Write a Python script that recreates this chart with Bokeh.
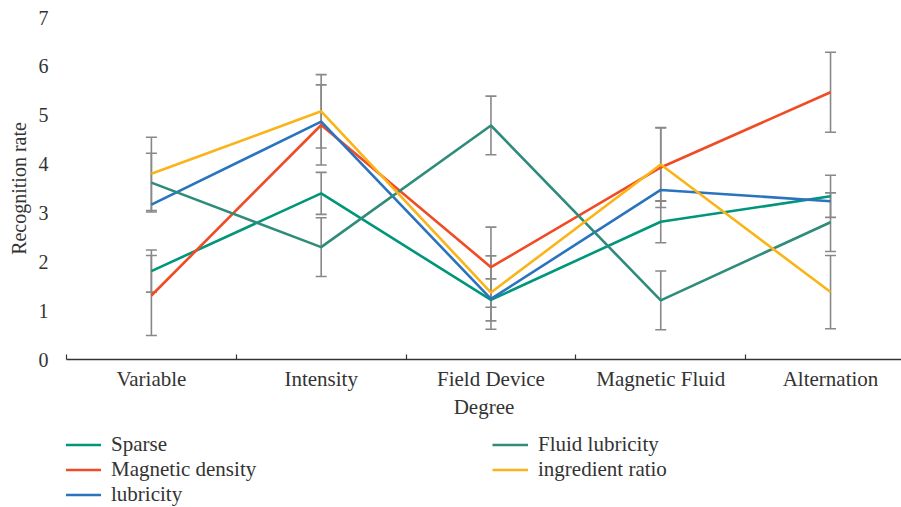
from bokeh.plotting import figure
from bokeh.layouts import column
from bokeh.models import (ColumnDataSource, Range1d, FixedTicker, Whisker, TeeHead,
                          Legend, LegendItem)
from bokeh.embed import file_html
from bokeh.resources import INLINE

# Categories along the x axis
categories = ["Variable", "Intensity", "Field Device", "Magnetic Fluid", "Alternation"]

# Series values (recognition rate) per category
sparse = [1.81, 3.40, 1.22, 2.82, 3.34]
magnetic_density = [1.31, 4.80, 1.89, 3.93, 5.47]
lubricity = [3.17, 4.87, 1.24, 3.47, 3.24]
fluid_lubricity = [3.62, 2.30, 4.79, 1.21, 2.81]
ingredient_ratio = [3.80, 5.08, 1.37, 3.99, 1.38]

# Symmetric error per series (None = no error bars)
sparse_err = 0.43
magnetic_density_err = 0.82
fluid_lubricity_err = 0.60
ingredient_ratio_err = 0.75

y_ticks = [0, 1, 2, 3, 4, 5, 6, 7]

FONT = "Liberation Serif"
TEXT = "#333333"

series = [
    ("Sparse", sparse, sparse_err, "#00967a"),
    ("Magnetic density", magnetic_density, magnetic_density_err, "#f04b24"),
    ("lubricity", lubricity, None, "#2a73bf"),
    ("Fluid lubricity", fluid_lubricity, fluid_lubricity_err, "#2f8c7b"),
    ("ingredient ratio", ingredient_ratio, ingredient_ratio_err, "#fbb417"),
]

xs = list(range(len(categories)))

chart = figure(width=901, height=430, output_backend="svg", toolbar_location=None,
               x_range=Range1d(-0.5, 4.418), y_range=Range1d(0, 7),
               min_border_left=66, min_border_right=0, min_border_top=17,
               min_border_bottom=71)
chart.outline_line_color = None
chart.xgrid.visible = False
chart.ygrid.visible = False

# Error bars first so the series lines sit on top
for name, vals, err, color in series:
    if err is None:
        continue
    src = ColumnDataSource(dict(x=xs,
                                upper=[v + err for v in vals],
                                lower=[v - err for v in vals]))
    w = Whisker(base="x", upper="upper", lower="lower", source=src,
                line_color="#888888", line_width=1.6,
                upper_head=TeeHead(size=11, line_color="#888888", line_width=1.6),
                lower_head=TeeHead(size=11, line_color="#888888", line_width=1.6))
    chart.add_layout(w)

for name, vals, err, color in series:
    chart.line(xs, vals, line_color=color, line_width=2.6)

# X axis: labels at category centres, small inward ticks at the boundaries
xa = chart.xaxis[0]
xa.ticker = FixedTicker(ticks=xs, minor_ticks=[-0.5, 0.5, 1.5, 2.5, 3.5, 4.5])
xa.major_label_overrides = {i: c for i, c in enumerate(categories)}
xa.major_tick_in = 0
xa.major_tick_out = 0
xa.minor_tick_in = 5
xa.minor_tick_out = 0
xa.minor_tick_line_color = TEXT
xa.minor_tick_line_width = 1.2
xa.axis_line_color = TEXT
xa.axis_line_width = 1.4
xa.major_label_standoff = 7
xa.major_label_text_font = FONT
xa.major_label_text_font_size = "21px"
xa.major_label_text_color = TEXT
xa.axis_label = "Degree"
xa.axis_label_text_font = FONT
xa.axis_label_text_font_size = "21px"
xa.axis_label_text_font_style = "normal"
xa.axis_label_text_color = TEXT
xa.axis_label_standoff = 1

ya = chart.yaxis[0]
ya.ticker = FixedTicker(ticks=y_ticks)
ya.axis_line_color = None
ya.major_tick_line_color = None
ya.minor_tick_line_color = None
ya.major_label_standoff = 12
ya.major_label_text_font = FONT
ya.major_label_text_font_size = "20px"
ya.major_label_text_color = TEXT
ya.axis_label = "Recognition rate"
ya.axis_label_text_font = FONT
ya.axis_label_text_font_size = "20px"
ya.axis_label_text_font_style = "normal"
ya.axis_label_text_color = TEXT
ya.axis_label_standoff = 6

# Legend strip under the chart: two columns, three rows.
# The strip's y range lies below every value, so its lines only feed the legend.
key = figure(width=901, height=77, output_backend="svg", toolbar_location=None,
             x_range=Range1d(0, 1), y_range=Range1d(-2, -1),
             x_axis_location=None, y_axis_location=None,
             min_border_left=0, min_border_right=0, min_border_top=0,
             min_border_bottom=0)
key.outline_line_color = None
key.xgrid.visible = False
key.ygrid.visible = False

items = []
for name, vals, err, color in series:
    r = key.line(xs, vals, line_color=color, line_width=2.6)
    items.append(LegendItem(label=name, renderers=[r]))

legend = Legend(items=items, orientation="vertical", nrows=3,
                location=(-1, 0), margin=0, padding=0,
                glyph_width=36, glyph_height=25, label_height=25,
                label_width=381, label_standoff=10, spacing=0,
                label_text_font=FONT, label_text_font_size="21px",
                label_text_color=TEXT, border_line_color=None,
                background_fill_alpha=0)
key.add_layout(legend)

p = column(chart, key, spacing=0)

open("out.html", "w").write(file_html(p, INLINE))
